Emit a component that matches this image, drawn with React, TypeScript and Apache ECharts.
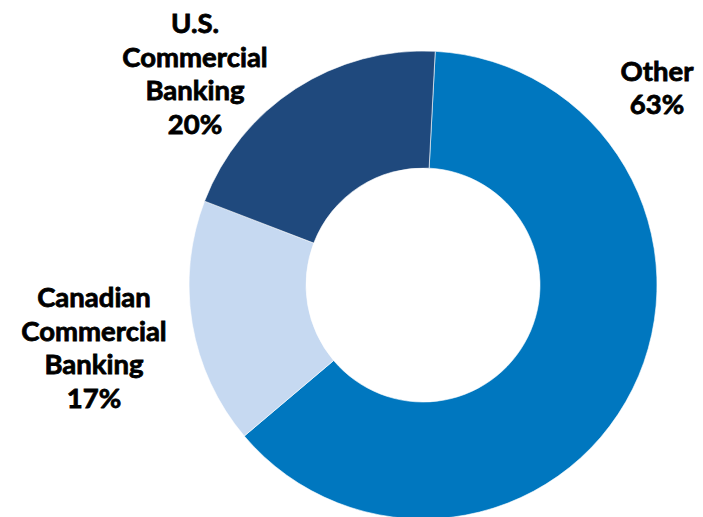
import React, { useEffect, useRef } from "react";
import * as echarts from "echarts";

const categories = ["Other", "Canadian\nCommercial\nBanking", "U.S.\nCommercial\nBanking"];
const shares = [63, 17, 20];
const sliceColors = ["#0077BF", "#C6D9F1", "#1F497D"];
const labelAnchors: [number, number][] = [
  [657, 87],
  [94, 347],
  [195, 73],
];

export default function App() {
  const ref = useRef<HTMLDivElement>(null);
  useEffect(() => {
    document.body.style.margin = "0";
    if (!ref.current) return;
    const chart = echarts.init(ref.current, null, { renderer: "svg" });
    chart.setOption({
      animation: false,
      series: [
        {
          type: "pie",
          center: [423, 285],
          radius: [117, 234],
          startAngle: 87,
          clockwise: true,
          avoidLabelOverlap: false,
          data: categories.map((name, i) => ({
            name,
            value: shares[i],
            itemStyle: { color: sliceColors[i] },
          })),
          itemStyle: { borderColor: "#ffffff", borderWidth: 0.6 },
          emphasis: { disabled: true },
          label: {
            show: true,
            formatter: (p: any) => `${p.name}\n${p.value}%`,
            fontFamily: "Lato, sans-serif",
            fontWeight: "bold",
            fontSize: 27.5,
            lineHeight: 33.5,
            color: "#000000",
            textBorderColor: "#000000",
            textBorderWidth: 0.8,
            align: "center",
          },
          labelLine: { show: false },
          labelLayout: (params: any) => {
            const [x, y] = labelAnchors[params.dataIndex];
            return { x, y, align: "center", verticalAlign: "middle" };
          },
        },
      ],
    });
    return () => chart.dispose();
  }, []);
  return <div ref={ref} style={{ width: 703, height: 517 }} />;
}
